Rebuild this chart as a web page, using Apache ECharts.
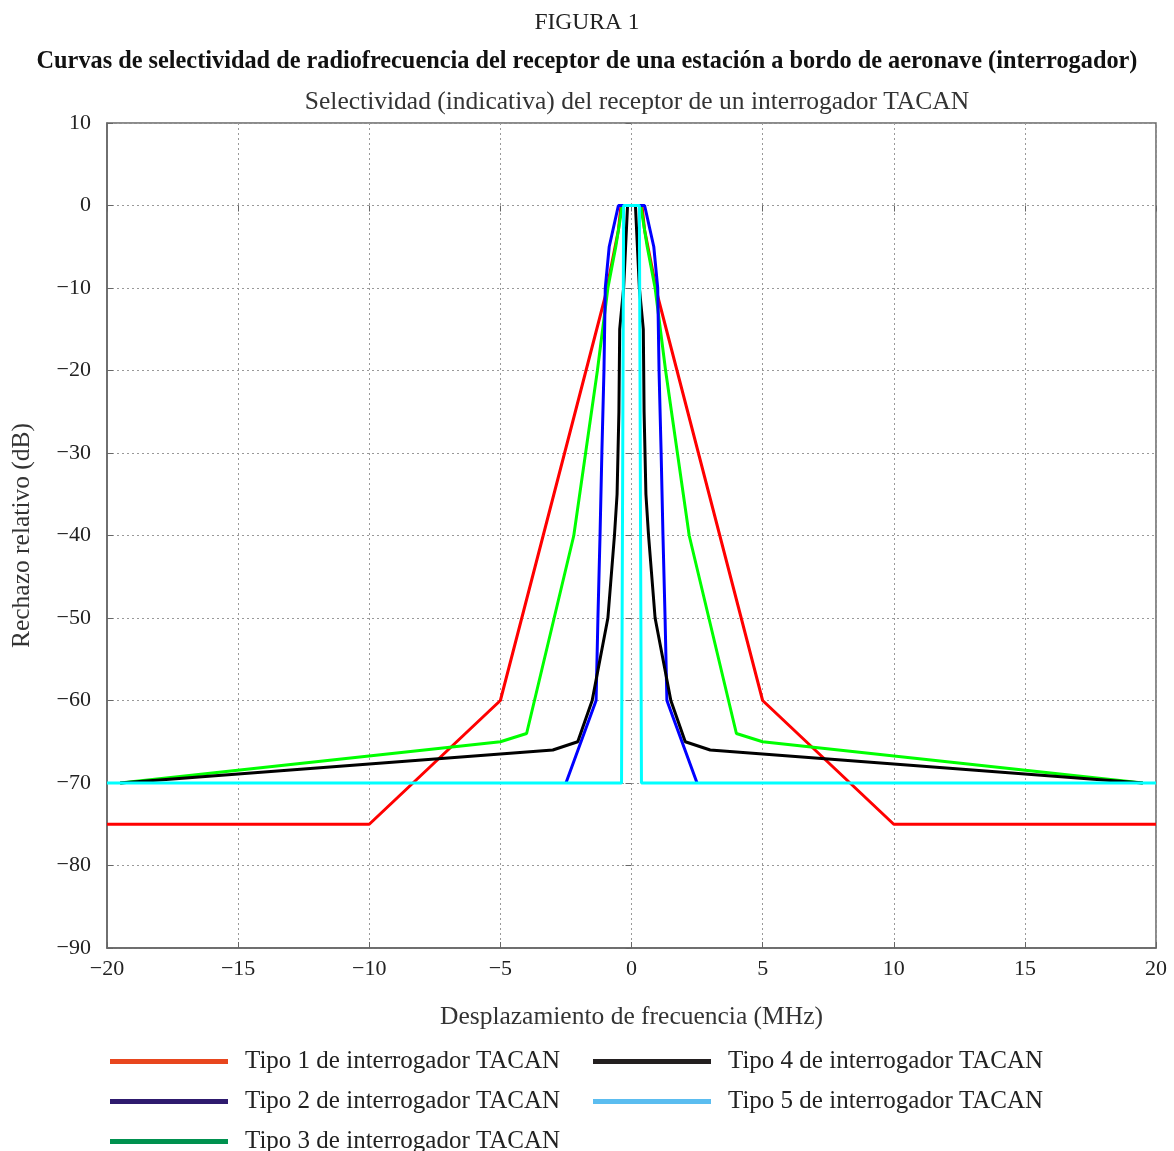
<!DOCTYPE html>
<html>
<head>
<meta charset="utf-8">
<script src="https://cdn.jsdelivr.net/npm/echarts@6/dist/echarts.min.js"></script>
<style>
html,body{margin:0;padding:0;background:#fff;}
#chart{width:1174px;height:1151px;}
</style>
</head>
<body>
<div id="chart"></div>
<script>
// ---- Data (frequency offset in MHz, relative rejection in dB) ----
const tipo1X = [-20, -10, -5, -1, -0.5, -0.4, 0.4, 0.5, 1, 5, 10, 20];
const tipo1Y = [-75, -75, -60, -11, -3, 0, 0, -3, -11, -60, -75, -75];

const tipo2X = [-2.5, -1.35, -1.28, -1.2, -1.13, -1.05, -1.0, -0.85, -0.5, 0.5, 0.85, 1.0, 1.05, 1.13, 1.2, 1.28, 1.35, 2.5];
const tipo2Y = [-70, -60, -50, -40, -30, -20, -10, -5, 0, 0, -5, -10, -20, -30, -40, -50, -60, -70];

const tipo3X = [-19.5, -5, -4, -2.2, -1.75, -1.3, -0.9, -0.6, -0.35, 0.35, 0.6, 0.9, 1.3, 1.75, 2.2, 4, 5, 19.5];
const tipo3Y = [-70, -65, -64, -40, -30, -20, -10, -5, 0, 0, -5, -10, -20, -30, -40, -64, -65, -70];

const tipo4X = [-19.5, -3, -2.05, -1.5, -0.9, -0.65, -0.55, -0.48, -0.45, -0.3, -0.15, 0.15, 0.3, 0.45, 0.48, 0.55, 0.65, 0.9, 1.5, 2.05, 3, 19.5];
const tipo4Y = [-70, -66, -65, -60, -50, -40, -35, -25, -15, -10, 0, 0, -10, -15, -25, -35, -40, -50, -60, -65, -66, -70];

const tipo5X = [-20, -0.38, -0.3, 0.3, 0.38, 20];
const tipo5Y = [-70, -70, 0, 0, -70, -70];

const seriesNames = [
  'Tipo 1 de interrogador TACAN',
  'Tipo 2 de interrogador TACAN',
  'Tipo 3 de interrogador TACAN',
  'Tipo 4 de interrogador TACAN',
  'Tipo 5 de interrogador TACAN'
];
const lineColors = ['#ff0000', '#0000ff', '#00ff00', '#000000', '#00ffff'];
const legendColors = ['#e8461e', '#2e1a6e', '#00914f', '#231f20', '#5bbdf0'];

const xTicks = { min: -20, max: 20, interval: 5 };
const yTicks = { min: -90, max: 10, interval: 10 };

const figLabel = 'FIGURA 1';
const figTitle = 'Curvas de selectividad de radiofrecuencia del receptor de una estación a bordo de aeronave (interrogador)';
const plotTitle = 'Selectividad (indicativa) del receptor de un interrogador TACAN';
const xName = 'Desplazamiento de frecuencia (MHz)';
const yName = 'Rechazo relativo (dB)';

// ---- Build ----
const FONT = '"Liberation Serif", "Times New Roman", serif';
const pair = (xs, ys) => xs.map((x, i) => [x, ys[i]]);
const allX = [tipo1X, tipo2X, tipo3X, tipo4X, tipo5X];
const allY = [tipo1Y, tipo2Y, tipo3Y, tipo4Y, tipo5Y];
const drawOrder = [0, 2, 1, 3, 4];
const minus = v => String(v).replace('-', '\u2212');

const series = drawOrder.map((i, k) => ({
  name: seriesNames[i],
  type: 'line',
  data: pair(allX[i], allY[i]),
  showSymbol: false,
  symbol: 'none',
  z: 2 + k,
  lineStyle: { color: lineColors[i], width: 3 },
  itemStyle: { color: lineColors[i] },
  animation: false
}));

const legendItem = i => ({
  name: seriesNames[i],
  icon: 'rect',
  itemStyle: { color: legendColors[i], borderWidth: 0 }
});
const legendCommon = {
  orient: 'vertical',
  padding: 0,
  height: 140,
  itemWidth: 118,
  itemHeight: 5,
  itemGap: 15,
  selectedMode: false,
  textStyle: { fontFamily: FONT, fontSize: 25, color: '#222', lineHeight: 25, padding: [0, 0, 0, 12] }
};

const chart = echarts.init(document.getElementById('chart'), null, { renderer: 'canvas' });
chart.setOption({
  backgroundColor: '#fff',
  animation: false,
  title: [
    { text: figLabel, left: 'center', top: 6, textStyle: { fontFamily: FONT, fontSize: 23.5, fontWeight: 'normal', color: '#222' } },
    { text: figTitle, left: 'center', top: 45, textStyle: { fontFamily: FONT, fontSize: 24.3, fontWeight: 'bold', color: '#111' } },
    { text: plotTitle, left: 632, textAlign: 'center', top: 84, textStyle: { fontFamily: FONT, fontSize: 25.5, fontWeight: 'normal', color: '#333' } }
  ],
  grid: { left: 107, right: 18, top: 123, bottom: 203, show: true, borderColor: '#666', borderWidth: 1.5, backgroundColor: 'transparent', containLabel: false, outerBoundsMode: 'none' },
  legend: [
    Object.assign({}, legendCommon, { left: 110, top: 1049, data: [0, 1, 2].map(legendItem) }),
    Object.assign({}, legendCommon, { left: 593, top: 1049, data: [3, 4].map(legendItem) })
  ],
  xAxis: [{
    type: 'value', min: xTicks.min, max: xTicks.max, interval: xTicks.interval,
    name: xName, nameLocation: 'middle', nameGap: 56,
    nameTextStyle: { fontFamily: FONT, fontSize: 25.5, color: '#333' },
    axisLine: { show: true, onZero: false, lineStyle: { color: '#666', width: 1.5 } },
    axisTick: { show: true, inside: true, length: 6, lineStyle: { color: '#666' } },
    axisLabel: { fontFamily: FONT, fontSize: 22, color: '#222', margin: 10, formatter: minus },
    splitLine: { show: true, lineStyle: { color: '#999', type: [2, 3], width: 1 } }
  }, {
    type: 'value', position: 'top', min: xTicks.min, max: xTicks.max, interval: xTicks.interval,
    axisLine: { show: false },
    axisTick: { show: true, inside: true, length: 6, lineStyle: { color: '#666' } },
    axisLabel: { show: false }, splitLine: { show: false }
  }],
  yAxis: [{
    type: 'value', min: yTicks.min, max: yTicks.max, interval: yTicks.interval,
    name: yName, nameLocation: 'middle', nameGap: 72, nameRotate: 90,
    nameTextStyle: { fontFamily: FONT, fontSize: 25.5, color: '#333' },
    axisLine: { show: true, onZero: false, lineStyle: { color: '#666', width: 1.5 } },
    axisTick: { show: true, inside: true, length: 6, lineStyle: { color: '#666' } },
    axisLabel: { fontFamily: FONT, fontSize: 22, color: '#222', margin: 16, formatter: minus },
    splitLine: { show: true, lineStyle: { color: '#999', type: [2, 3], width: 1 } }
  }, {
    type: 'value', position: 'right', min: yTicks.min, max: yTicks.max, interval: yTicks.interval,
    axisLine: { show: false },
    axisTick: { show: true, inside: true, length: 6, lineStyle: { color: '#666' } },
    axisLabel: { show: false }, splitLine: { show: false }
  }],
  series: series
});
</script>
</body>
</html>
